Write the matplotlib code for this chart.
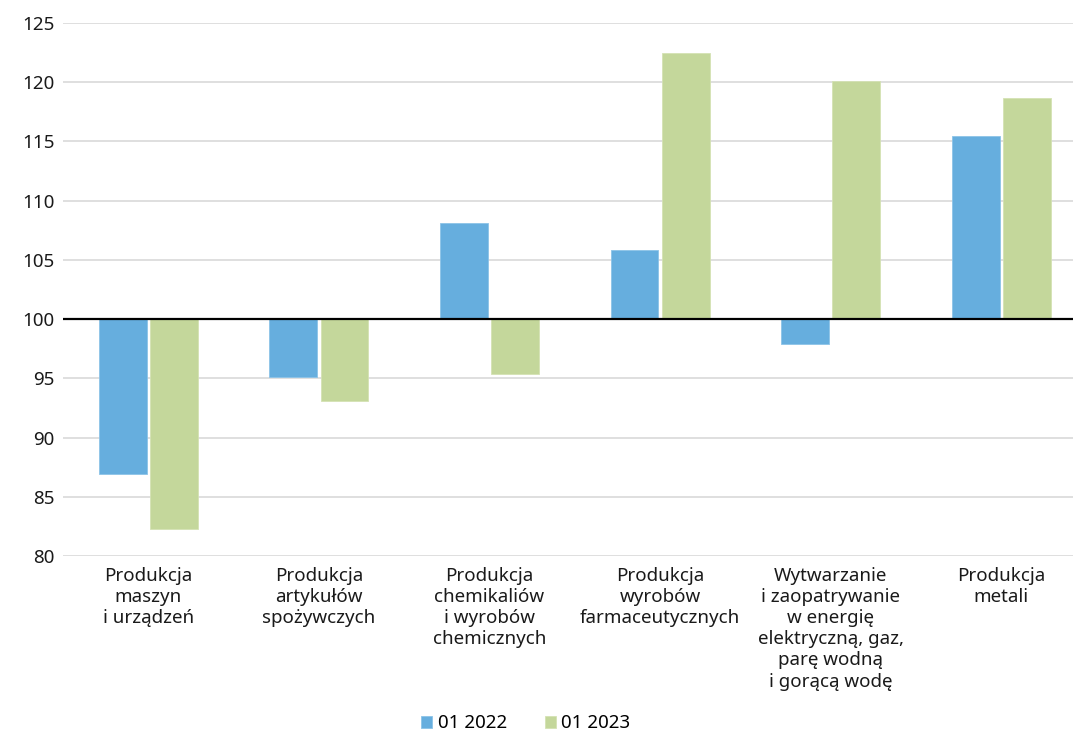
import matplotlib.pyplot as plt
import numpy as np

plt.rcParams['font.family'] = ['Noto Sans', 'DejaVu Sans']

# Dane
kategorie = [
    'Produkcja\nmaszyn\ni urządzeń',
    'Produkcja\nartykułów\nspożywczych',
    'Produkcja\nchemikaliów\ni wyrobów\nchemicznych',
    'Produkcja\nwyrobów\nfarmaceutycznych',
    'Wytwarzanie\ni zaopatrywanie\nw energię\nelektryczną, gaz,\nparę wodną\ni gorącą wodę',
    'Produkcja\nmetali',
]
wartosci_2022 = [86.9, 95.1, 108.1, 105.8, 97.9, 115.5]
wartosci_2023 = [82.3, 93.1, 95.4, 122.5, 120.1, 118.7]
baza = 100

fig = plt.figure(figsize=(10.73, 7.33), dpi=100)
ax = fig.add_axes([63 / 1073, 1 - 556 / 733, 1 - 63 / 1073, (556 - 23) / 733])

x = np.arange(len(kategorie))
szer = 0.28
ax.bar(x - 0.15, np.array(wartosci_2022) - baza, bottom=baza, width=szer,
       color='#66AEDE', edgecolor='#8cc3e8', linewidth=0.6, label='01 2022', zorder=2)
ax.bar(x + 0.15, np.array(wartosci_2023) - baza, bottom=baza, width=szer,
       color='#C4D79B', edgecolor='#d4e2b4', linewidth=0.6, label='01 2023', zorder=2)

# Linia bazowa 100
ax.axhline(baza, color='black', linewidth=1.6, zorder=3)

ax.set_ylim(80, 125)
ax.set_yticks(range(80, 126, 5))
ax.set_xlim(-0.5, 5.42)
ax.grid(axis='y', color='#d9d9d9', linewidth=1.2, zorder=0)
ax.set_axisbelow(True)
for s in ax.spines.values():
    s.set_visible(False)

ax.set_xticks(x)
ax.set_xticklabels(kategorie, fontsize=13.5, color='#1a1a1a', linespacing=1.22)
ax.tick_params(axis='x', length=0, pad=8)
ax.tick_params(axis='y', length=0, pad=6, labelsize=13.5, labelcolor='#1a1a1a')

fig.legend(loc='lower center', bbox_to_anchor=(0.49, -0.022), ncol=2, frameon=False,
           fontsize=13.5, handlelength=0.6, handleheight=0.6, handletextpad=0.3,
           columnspacing=2.0)

fig.savefig('out.png', dpi=100)
